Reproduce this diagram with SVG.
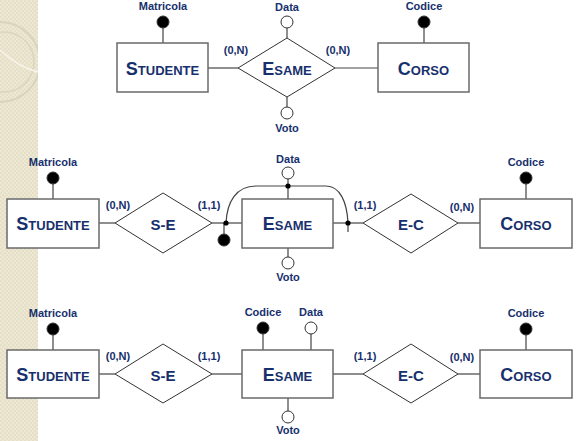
<svg xmlns="http://www.w3.org/2000/svg" width="581" height="441" viewBox="0 0 581 441">
<defs>
<pattern id="chk" width="4" height="4" patternUnits="userSpaceOnUse">
<rect width="4" height="4" fill="#ECE8D4"/>
<rect width="2" height="2" fill="#E4DFC6"/>
<rect x="2" y="2" width="2" height="2" fill="#E4DFC6"/>
</pattern>
<clipPath id="strip"><rect x="0" y="0" width="38" height="441"/></clipPath>
<style>
.ent{fill:#fff;stroke:#6a6a6a;stroke-width:1.5}
.rel{fill:#fff;stroke:#333;stroke-width:1}
.ln{stroke:#444;stroke-width:1.2;fill:none}
.idc{fill:#000;stroke:#333;stroke-width:1}
.atc{fill:#fff;stroke:#333;stroke-width:1}
.lbl{font-family:"Liberation Sans",Arial,sans-serif;font-weight:bold;font-size:11px;fill:#17306D;text-anchor:middle}
.big{font-family:"Liberation Sans",Arial,sans-serif;font-weight:bold;font-size:13px;fill:#17306D;text-anchor:middle}
.cap{font-size:18px}
.rn{font-family:"Liberation Sans",Arial,sans-serif;font-weight:bold;font-size:15px;fill:#17306D;text-anchor:middle}
</style>
</defs>
<rect width="581" height="441" fill="#fff"/>
<g id="background">
<rect x="0" y="0" width="38" height="441" fill="url(#chk)"/>
<g clip-path="url(#strip)" fill="none">
<circle cx="0" cy="62" r="40" stroke="#D8D3BC" stroke-width="2"/>
<circle cx="4" cy="62" r="30" stroke="#DAD5BF" stroke-width="1.5"/>
<path d="M0,50 Q20,68 38,72" stroke="#F8F6EC" stroke-width="1.5"/>
</g>
</g>

<g id="connectors">
<!-- top -->
<line class="ln" x1="208" y1="68" x2="238" y2="68"/>
<line class="ln" x1="335" y1="68" x2="378" y2="68"/>
<line class="ln" x1="163" y1="28" x2="163" y2="43"/>
<line class="ln" x1="424" y1="28" x2="424" y2="43"/>
<line class="ln" x1="287" y1="28" x2="287" y2="38"/>
<line class="ln" x1="287" y1="97" x2="287" y2="107"/>
<!-- middle -->
<line class="ln" x1="99" y1="223" x2="115" y2="223"/>
<line class="ln" x1="212" y1="223" x2="242" y2="223"/>
<line class="ln" x1="333" y1="223" x2="363" y2="223"/>
<line class="ln" x1="458" y1="223" x2="480" y2="223"/>
<line class="ln" x1="53" y1="184" x2="53" y2="199"/>
<line class="ln" x1="526" y1="184" x2="526" y2="199"/>
<line class="ln" x1="288" y1="179" x2="288" y2="199"/>
<line class="ln" x1="288" y1="248" x2="288" y2="257"/>
<line class="ln" x1="224" y1="223" x2="224" y2="234"/>
<path class="ln" d="M226,223 C227,202 236,186 256,186 L326,186 C340,186 347,202 348,223 L348,232" stroke="#333" stroke-width="1"/>
<!-- bottom -->
<line class="ln" x1="99" y1="374" x2="115" y2="374"/>
<line class="ln" x1="212" y1="374" x2="242" y2="374"/>
<line class="ln" x1="333" y1="374" x2="363" y2="374"/>
<line class="ln" x1="458" y1="374" x2="480" y2="374"/>
<line class="ln" x1="53" y1="335" x2="53" y2="350"/>
<line class="ln" x1="526" y1="335" x2="526" y2="350"/>
<line class="ln" x1="263" y1="334" x2="263" y2="350"/>
<line class="ln" x1="311" y1="334" x2="311" y2="350"/>
<line class="ln" x1="288" y1="398" x2="288" y2="411"/>
</g>

<!-- TOP DIAGRAM -->
<g id="studente1">
<rect class="ent" x="117" y="43" width="91" height="49"/>
<text class="big" x="162.5" y="75"><tspan class="cap">S</tspan>TUDENTE</text>
</g>
<g id="matricola1">
<circle class="idc" cx="163" cy="22" r="6"/>
<text class="lbl" x="163" y="10">Matricola</text>
</g>
<g id="esame1">
<polygon class="rel" points="238,68 287,38 335,68 287,97"/>
<text class="big" x="287" y="75"><tspan class="cap">E</tspan>SAME</text>
</g>
<g id="data1">
<circle class="atc" cx="287" cy="22" r="6"/>
<text class="lbl" x="287" y="11">Data</text>
</g>
<g id="voto1">
<circle class="atc" cx="287" cy="113" r="6"/>
<text class="lbl" x="287" y="132">Voto</text>
</g>
<g id="corso1">
<rect class="ent" x="378" y="43" width="91" height="49"/>
<text class="big" x="423.5" y="75"><tspan class="cap">C</tspan>ORSO</text>
</g>
<g id="codice1">
<circle class="idc" cx="424" cy="22" r="6"/>
<text class="lbl" x="424" y="10">Codice</text>
</g>
<g id="card1">
<text class="lbl" x="236" y="54">(0,N)</text>
<text class="lbl" x="338" y="54">(0,N)</text>
</g>

<!-- MIDDLE DIAGRAM -->
<g id="studente2">
<rect class="ent" x="7" y="199" width="92" height="49"/>
<text class="big" x="53" y="230"><tspan class="cap">S</tspan>TUDENTE</text>
</g>
<g id="matricola2">
<circle class="idc" cx="53" cy="178" r="6"/>
<text class="lbl" x="53" y="166">Matricola</text>
</g>
<g id="se2">
<polygon class="rel" points="115,223 163,193 212,223 163,253"/>
<text class="rn" x="163" y="230">S-E</text>
</g>
<g id="esame2">
<rect class="ent" x="242" y="199" width="91" height="49"/>
<text class="big" x="287.5" y="230"><tspan class="cap">E</tspan>SAME</text>
</g>
<g id="data2">
<circle class="atc" cx="288" cy="173" r="6"/>
<text class="lbl" x="288" y="163">Data</text>
</g>
<g id="voto2">
<circle class="atc" cx="288" cy="263" r="6"/>
<text class="lbl" x="288" y="281">Voto</text>
</g>
<g id="idext2">
<circle cx="226" cy="223" r="2.6" fill="#000"/>
<circle cx="348" cy="223" r="2.6" fill="#000"/>
<circle cx="288" cy="186" r="2.6" fill="#000"/>
<circle class="idc" cx="224" cy="240" r="6"/>
</g>
<g id="ec2">
<polygon class="rel" points="363,223 411,194 458,223 411,253"/>
<text class="rn" x="411" y="230">E-C</text>
</g>
<g id="corso2">
<rect class="ent" x="480" y="199" width="92" height="49"/>
<text class="big" x="526" y="230"><tspan class="cap">C</tspan>ORSO</text>
</g>
<g id="codice2">
<circle class="idc" cx="526" cy="178" r="6"/>
<text class="lbl" x="526" y="166">Codice</text>
</g>
<g id="card2">
<text class="lbl" x="118" y="209">(0,N)</text>
<text class="lbl" x="209" y="209">(1,1)</text>
<text class="lbl" x="365" y="209">(1,1)</text>
<text class="lbl" x="462" y="211">(0,N)</text>
</g>

<!-- BOTTOM DIAGRAM -->
<g id="studente3">
<rect class="ent" x="7" y="350" width="92" height="48"/>
<text class="big" x="53" y="381"><tspan class="cap">S</tspan>TUDENTE</text>
</g>
<g id="matricola3">
<circle class="idc" cx="53" cy="329" r="6"/>
<text class="lbl" x="53" y="317">Matricola</text>
</g>
<g id="se3">
<polygon class="rel" points="115,374 163,344 212,374 163,403"/>
<text class="rn" x="163" y="381">S-E</text>
</g>
<g id="esame3">
<rect class="ent" x="242" y="350" width="91" height="48"/>
<text class="big" x="287.5" y="381"><tspan class="cap">E</tspan>SAME</text>
</g>
<g id="codiceE3">
<circle class="idc" cx="263" cy="328" r="6"/>
<text class="lbl" x="263" y="316">Codice</text>
</g>
<g id="data3">
<circle class="atc" cx="311" cy="328" r="6"/>
<text class="lbl" x="311" y="316">Data</text>
</g>
<g id="voto3">
<circle class="atc" cx="288" cy="417" r="6"/>
<text class="lbl" x="288" y="434">Voto</text>
</g>
<g id="ec3">
<polygon class="rel" points="363,374 411,344 458,374 411,403"/>
<text class="rn" x="411" y="381">E-C</text>
</g>
<g id="corso3">
<rect class="ent" x="480" y="350" width="92" height="48"/>
<text class="big" x="526" y="381"><tspan class="cap">C</tspan>ORSO</text>
</g>
<g id="codice3">
<circle class="idc" cx="526" cy="329" r="6"/>
<text class="lbl" x="526" y="317">Codice</text>
</g>
<g id="card3">
<text class="lbl" x="118" y="360">(0,N)</text>
<text class="lbl" x="209" y="360">(1,1)</text>
<text class="lbl" x="365" y="360">(1,1)</text>
<text class="lbl" x="462" y="361">(0,N)</text>
</g>
</svg>
